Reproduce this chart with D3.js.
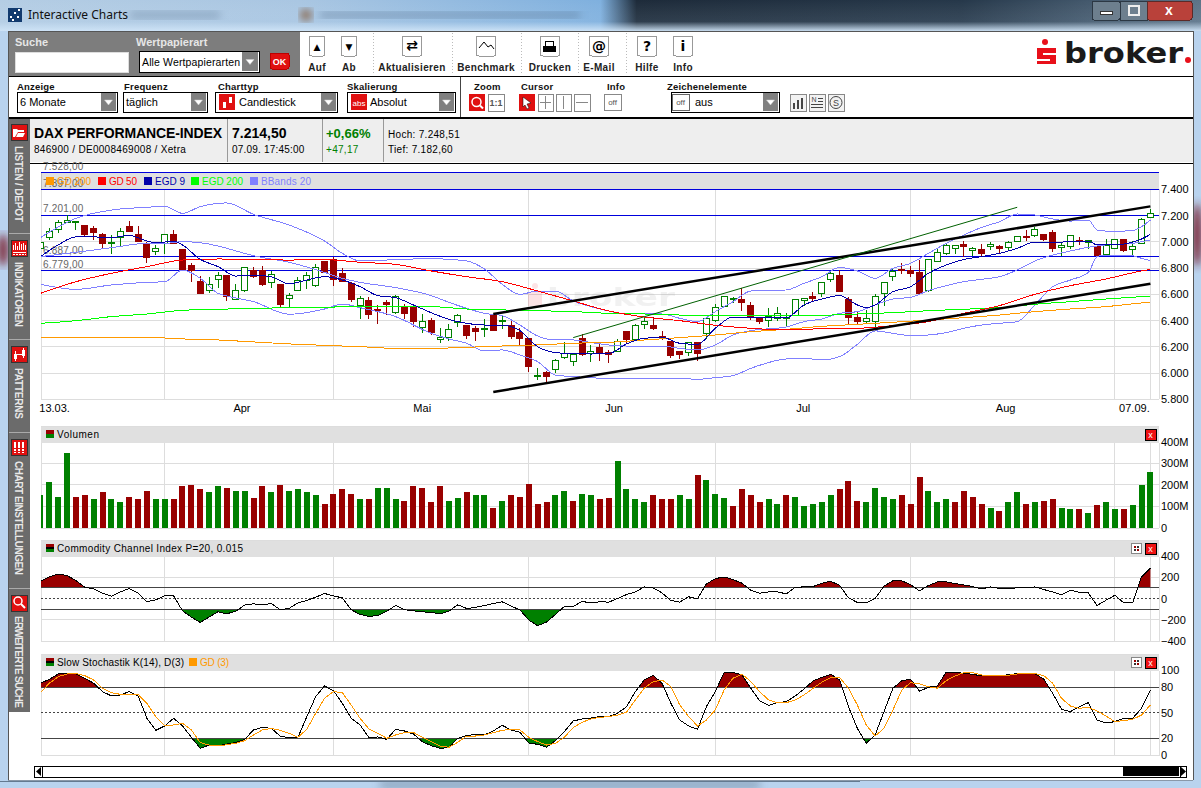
<!DOCTYPE html>
<html>
<head>
<meta charset="utf-8">
<title>Interactive Charts</title>
<script src="https://d3js.org/d3.v7.min.js"></script>
<style>
    html, body { margin: 0; padding: 0; background: #fff; overflow: hidden; }
    svg { display: block; font-family: "Liberation Sans", Arial, sans-serif; }
    .crisp { shape-rendering: crispEdges; }
</style>
</head>
<body>
<div id="chart"></div>
<script>
// candles, one per trading day from 13.03. to 07.09.
var opens = [6950,7034,7095,7148,7146,7125,7098,7057,6988,7031,
    7113,7057,6983,6925,6986,7057,6945,6823,6701,6628,
    6714,6740,6559,6628,6783,6783,6689,6671,6569,6630,
    6704,6668,6851,6866,6755,6686,6513,6554,6486,6534,
    6465,6503,6503,6346,6404,6257,6272,6387,6359,6343,
    6333,6435,6392,6366,6308,6267,5973,6008,6026,6115,
    6087,6260,6148,6191,6153,6166,6313,6252,6371,6366,
    6282,6239,6161,6158,6234,6303,6404,6508,6559,6564,
    6511,6417,6402,6417,6417,6442,6554,6585,6605,6709,
    6747,6564,6427,6392,6392,6607,6732,6788,6783,6765,
    6628,6851,6910,6948,6983,6932,6943,6963,6963,6960,
    7006,7044,7049,7052,7072,6958,6965,7009,6998,6968,
    6905,6950,7016,6940,6988,7186];
var highs = [7014,7103,7166,7204,7155,7125,7120,7070,7052,7103,
    7158,7120,7001,6976,7062,7090,6945,6836,6742,6729,
    6772,6740,6676,6805,6811,6816,6778,6671,6607,6734,
    6772,6828,6854,6887,6798,6691,6585,6580,6519,6557,
    6592,6524,6506,6447,6417,6343,6371,6450,6359,6361,
    6412,6442,6442,6397,6341,6267,6036,6016,6105,6234,
    6143,6295,6211,6219,6176,6262,6315,6371,6417,6430,
    6323,6239,6168,6232,6239,6417,6524,6585,6577,6646,
    6541,6422,6493,6501,6455,6564,6574,6620,6696,6767,
    6783,6577,6463,6480,6600,6691,6798,6836,6816,6861,
    6866,6950,6981,6976,7004,6960,6983,6996,6976,7004,
    7044,7090,7115,7059,7090,6996,7049,7037,7014,6968,
    7021,7016,7021,7006,7179,7250];
var lows = [6937,7014,7070,7141,7090,7039,7014,6945,6907,6968,
    7077,7001,6841,6899,6907,6983,6783,6691,6602,6607,
    6645,6552,6557,6620,6727,6666,6651,6493,6506,6628,
    6640,6653,6760,6666,6691,6544,6414,6414,6376,6442,
    6450,6412,6354,6303,6290,6231,6247,6354,6260,6244,
    6277,6321,6338,6262,6214,6011,5945,5930,5998,6105,
    6057,6133,6087,6095,6079,6163,6224,6249,6338,6328,
    6252,6112,6107,6133,6095,6260,6392,6506,6531,6475,
    6404,6374,6351,6399,6361,6440,6508,6539,6580,6696,
    6620,6376,6374,6376,6323,6513,6704,6755,6734,6602,
    6618,6849,6899,6905,6887,6889,6887,6937,6910,6930,
    6996,7006,7039,7009,6920,6892,6943,6976,6945,6887,
    6892,6945,6920,6889,6981,7182];
var closes = [6996,7077,7148,7166,7153,7052,7070,6986,6996,7077,
    7077,7001,6879,6950,7057,6986,6790,6783,6605,6676,
    6745,6582,6628,6805,6734,6671,6750,6521,6590,6704,
    6745,6803,6765,6714,6694,6557,6569,6445,6475,6521,
    6580,6453,6394,6389,6308,6272,6333,6440,6285,6315,
    6343,6323,6402,6282,6262,6049,5983,5973,6097,6148,
    6138,6138,6166,6150,6145,6237,6252,6366,6394,6343,
    6260,6130,6140,6232,6148,6414,6498,6585,6567,6534,
    6430,6392,6430,6453,6427,6562,6567,6567,6691,6760,
    6625,6422,6392,6412,6587,6691,6772,6778,6757,6605,
    6866,6920,6973,6973,6963,6950,6910,6983,6948,6998,
    7039,7031,7095,7014,6948,6973,7047,7004,7009,6892,
    6973,7016,6930,6968,7171,7215];

// volume in millions, and whether the bar is green (1) or red (0)
var volumes = [150,211,145,348,145,150,135,164,131,121,
    145,135,169,131,135,131,192,197,178,164,
    192,187,169,169,140,192,164,197,169,178,
    164,154,112,159,178,159,135,135,187,183,
    131,126,192,183,117,192,126,140,164,150,
    154,93,126,150,145,202,112,117,154,173,
    126,159,150,131,140,310,178,135,121,150,
    131,135,150,131,244,220,159,140,102,178,
    150,117,131,112,150,145,102,112,121,150,
    178,216,126,117,187,145,135,154,112,235,
    173,117,135,121,169,145,112,93,79,117,
    164,112,117,126,131,93,88,88,69,107,
    121,88,88,107,197,258];
var volumeUp = [1,1,1,1,0,0,1,0,1,1, 0,0,0,1,1,0,0,0,0,1,
    1,0,1,1,0,0,1,0,1,1, 1,1,0,0,0,0,1,0,1,1,
    1,0,0,0,0,0,1,1,0,1, 1,0,1,0,0,0,0,0,1,1,
    0,1,1,0,0,1,1,1,1,0, 0,0,1,1,0,1,1,1,0,0,
    0,0,1,1,0,1,1,1,1,1, 0,0,0,1,1,1,1,0,0,0,
    1,1,1,0,0,0,0,1,0,1, 1,0,1,0,0,1,1,0,1,0,
    1,1,0,1,1,1];

var cci = [162,203,231,216,169,106,91,50,22,62,
    94,53,-31,-12,25,25,-116,-175,-225,-175,
    -125,-144,-119,-62,-50,-59,-47,-106,-94,-41,
    -19,12,47,25,6,-106,-150,-169,-159,-119,
    -66,-106,-116,-125,-131,-144,-119,-59,-94,-84,
    -66,-47,-31,-72,-106,-203,-256,-222,-150,-75,
    -75,-28,-41,-31,-34,0,37,62,109,100,
    53,-19,-34,16,-3,137,187,203,178,144,
    78,50,62,62,44,106,109,112,144,162,
    125,6,-37,-41,0,116,166,166,131,72,
    122,156,156,141,128,112,91,109,94,94,
    100,100,109,84,62,34,78,59,53,-66,
    -16,31,-41,-41,203,288];

var stochK = [84.7,89.4,95.7,96.1,95.7,90.6,84.7,74.9,69.8,71,
    74.9,69.8,43.5,29.4,34.5,43.5,34.5,21.2,8.2,12.1,
    11,13.3,14.9,18.8,29.8,32.9,31.7,22.7,20.4,21.2,
    45.5,69,81.5,76,61.2,43.5,35.7,20.8,21.6,18.8,
    30.6,28.6,25.1,16.1,11.4,8.2,9,20,23.1,24.7,
    23.9,28.6,35.3,29.8,27,14.5,12.9,9.4,17.2,27.8,
    40.4,42.7,43.9,45.5,45.5,49.4,57.2,74.9,88.6,94.1,
    84.7,61.2,41.5,34.5,30.6,57.2,74.9,97.6,97.6,94.5,
    78.8,64.3,58.8,61.9,63.1,69.8,78,87.4,91.7,95.3,
    88.6,57.2,31.7,14.1,23.9,51.4,78.8,87.8,89.4,75.3,
    80,81.5,97.6,97.6,96.5,95.3,93.3,93.3,93.3,94.9,
    96.1,96.1,96.1,89.4,72.9,54.1,51.4,57.2,61.9,41.5,
    38,39.6,43.5,43.5,55.3,76.8];
var stochD = [73.7,84.7,92.5,95.7,96.1,93.7,88.6,78.8,73.7,71.7,
    71.7,71.7,61.2,45.5,34.5,35.7,37.6,29.8,14.9,12.1,
    11,12.5,14.1,17.2,23.9,29.8,31.7,29.4,25.9,21.2,
    30.6,49.4,67,74.9,73.7,59.2,43.5,31,25.9,20,
    23.9,26.6,27,21.2,16.1,11,9.4,15.3,22.7,22.7,
    23.9,26.6,29.4,30.6,29.8,21.2,16.1,12.1,14.1,21.2,
    32.5,38.8,42.7,44.7,45.5,47.4,50.6,65.1,78.8,86.6,
    88.6,80.8,59.2,45.5,34.5,41.5,53.3,76.8,90.6,95.7,
    86.6,74.9,65.1,61.9,61.9,65.1,71,78.8,85.9,91.4,
    91.7,78.8,59.2,35.7,22.7,31.7,53.3,76.8,85.5,83.9,
    80.8,78.8,87.8,93.3,97.2,97.2,94.5,93.7,93.3,94.1,
    95.7,96.1,96.1,93.7,84.7,67,58,55.3,56.4,52.1,
    46.3,39.6,40.8,42.3,47.4,59.2];

var egd9Days = [0,2,4,6,8,10,12,13,14,15,16,18,20,22,24,26,28,30,32,34,36,38,40,42,44,46,48,50,52,54,56,58,60,62,64,66,68,70,72,74,76,78,80,82,84,86,88,90,92,93,94,96,98,100,102,104,106,108,110,112,114,116,118,119,120,122,124,125];
var egd9 = [6887,6976,7037,7037,7032,7049,7006,6993,6998,7006,6976,6866,6811,6739,6745,6734,6679,6709,6734,6709,6658,6590,6574,6519,6460,6409,6379,6366,6366,6323,6201,6156,6148,6145,6148,6222,6265,6272,6227,6219,6341,6427,6427,6425,6422,6519,6564,6590,6519,6498,6519,6620,6658,6760,6823,6866,6887,6912,6950,6998,6996,7001,7006,6976,6976,6983,7021,7057];

var bandDays = [0,4,8,12,14,16,18,20,21,24,28,32,34,36,40,44,46,48,50,52,54,56,58,60,62,64,66,68,70,72,74,76,78,80,84,86,88,90,92,94,96,98,100,102,104,106,108,110,112,114,116,118,119,120,122,123,124,125];
var bandUpper = [7032,7179,7242,7263,7270,7217,7268,7293,7296,7209,7128,7006,6912,6854,6864,6872,6866,6854,6793,6676,6600,6625,6625,6549,6506,6473,6450,6450,6450,6417,6392,6468,6544,6625,6633,6684,6734,6805,6778,6722,6798,6836,6912,6988,7052,7110,7153,7212,7204,7174,7158,7166,7090,7082,7082,7085,7115,7166];
var bandMiddle = [6887,6920,6955,6988,6988,7001,6993,6968,6950,6894,6844,6767,6722,6691,6651,6590,6539,6493,6455,6437,6366,6282,6252,6252,6232,6214,6206,6206,6206,6188,6176,6214,6290,6323,6351,6392,6412,6455,6468,6519,6564,6577,6628,6666,6696,6714,6734,6785,6854,6899,6930,6958,6968,6976,6983,6988,7001,7014];
var bandLower = [6676,6638,6671,6691,6696,6785,6722,6607,6587,6544,6448,6488,6526,6498,6430,6303,6260,6227,6168,6176,6138,6087,5985,5973,5965,5957,5955,5960,5960,5960,5952,5965,5980,6036,6107,6112,6100,6125,6219,6321,6303,6285,6290,6308,6341,6366,6379,6392,6519,6658,6709,6767,6887,6899,6899,6894,6874,6856];

var avgDays = [0,4,8,12,16,20,24,28,32,36,40,44,48,52,56,60,64,68,72,76,80,84,88,92,96,100,104,108,112,116,120,124,125];
var gd50 = [6607,6696,6760,6811,6861,6869,6864,6861,6864,6844,6828,6778,6734,6696,6625,6549,6473,6427,6399,6364,6341,6328,6338,6341,6361,6392,6455,6514,6600,6666,6717,6778,6790];
var egd200 = [6379,6399,6430,6450,6478,6486,6493,6498,6501,6508,6508,6506,6488,6481,6475,6468,6455,6450,6442,6435,6440,6437,6440,6450,6460,6475,6486,6498,6524,6544,6564,6582,6587];
var gd200 = [6272,6272,6272,6272,6260,6252,6237,6222,6211,6201,6188,6188,6196,6206,6214,6227,6234,6252,6270,6290,6315,6333,6356,6371,6387,6404,6422,6442,6468,6488,6506,6534,6539];

// horizontal levels and trend lines the user drew
var levels = [7528,7397,7201,6887,6779];
var trendFrom = [51,51,60];
var trendTo = [125,125,110];
var trendStart = [6450,5856,6270];
var trendEnd = [7270,6681,7263];

var monthLines = [14,33,55,76,98,121,125];
var dateLabels = ["13.03.","Apr","Mai","Jun","Jul","Aug","07.09."];
var dateLabelDays = [1.6,22.7,43,64.6,85.9,108.7,123.2];

var priceTicks = [7400,7200,7000,6800,6600,6400,6200,6000,5800];
var volumeTicks = [400,300,200,100,0];
var cciTicks = [400,200,0,-200,-400];
var stochTicks = [100,80,50,20,0];

var de = d3.formatLocale({decimal: ",", thousands: ".", grouping: [3], currency: ["", ""]});
var fmtPrice = de.format(",.0f");
var fmtLevel = de.format(",.2f");

var width = 1201, height = 788;
var green = "#008000", darkRed = "#990000";
var plotLeft = 41, plotRight = 1159;

var svg = d3.select("#chart").append("svg").attr("width", width).attr("height", height);
var defs = svg.append("defs");

var x = d3.scaleLinear().domain([0, 125]).range([40.4, 1150.4]);
var yPrice = d3.scaleLinear().domain([5800, 7400]).range([399.3, 189.3]);
var yVolume = d3.scaleLinear().domain([0, 400]).range([527.5, 442]);
var yCci = d3.scaleLinear().domain([-400, 400]).range([641, 556]);
var yStoch = d3.scaleLinear().domain([0, 100]).range([755.3, 670.3]);

function rect(g, x0, y0, w, h, fill, stroke) {
    return g.append("rect").attr("class", "crisp").attr("x", x0).attr("y", y0)
        .attr("width", w).attr("height", h).attr("fill", fill)
        .attr("stroke", stroke || "none");
}
function label(g, x0, y0, txt, size, weight, fill, anchor) {
    return g.append("text").attr("x", x0).attr("y", y0).text(txt)
        .attr("font-size", size).attr("font-weight", weight || "normal")
        .attr("fill", fill || "#000").attr("text-anchor", anchor || "start");
}
function hline(g, x0, x1, y0, color, w) {
    return g.append("line").attr("class", "crisp").attr("x1", x0).attr("x2", x1)
        .attr("y1", y0).attr("y2", y0).attr("stroke", color).attr("stroke-width", w || 1);
}
function vline(g, x0, y0, y1, color, w) {
    return g.append("line").attr("class", "crisp").attr("x1", x0).attr("x2", x0)
        .attr("y1", y0).attr("y2", y1).attr("stroke", color).attr("stroke-width", w || 1);
}
function glyph(d, stroke, w, fill) {
    return svg.append("path").attr("d", d).attr("fill", fill || "none")
        .attr("stroke", stroke || "none").attr("stroke-width", w || 1);
}

// ---------- window frame ----------
var glass = defs.append("linearGradient").attr("id", "glass");
glass.append("stop").attr("offset", "0%").attr("stop-color", "#b4cde4");
glass.append("stop").attr("offset", "25%").attr("stop-color", "#a9c6e2");
glass.append("stop").attr("offset", "50%").attr("stop-color", "#7fb0de");
glass.append("stop").attr("offset", "53%").attr("stop-color", "#1d2b3a");
glass.append("stop").attr("offset", "80%").attr("stop-color", "#26384a");
glass.append("stop").attr("offset", "90%").attr("stop-color", "#41566a");
glass.append("stop").attr("offset", "100%").attr("stop-color", "#5d7488");
var sheen = defs.append("linearGradient").attr("id", "sheen").attr("x2", 0).attr("y2", 1);
sheen.append("stop").attr("offset", "0%").attr("stop-color", "#fff").attr("stop-opacity", 0);
sheen.append("stop").attr("offset", "70%").attr("stop-color", "#cfe4f7").attr("stop-opacity", 0.1);
sheen.append("stop").attr("offset", "100%").attr("stop-color", "#cfe4f7").attr("stop-opacity", 0.95);
defs.append("filter").attr("id", "blur").append("feGaussianBlur").attr("stdDeviation", 4);

rect(svg, 0, 0, width, height, "#b9d3ee");
rect(svg, 0, 0, width, 31, "url(#glass)");
rect(svg, 0, 0, width, 31, "url(#sheen)");
// things behind the glass
svg.append("ellipse").attr("cx", 306).attr("cy", 15).attr("rx", 6).attr("ry", 6).attr("fill", "#8a6a52").attr("filter", "url(#blur)");
svg.append("rect").attr("x", 320).attr("y", 12).attr("width", 260).attr("height", 6).attr("fill", "#55708c").attr("opacity", 0.5).attr("filter", "url(#blur)");
svg.append("rect").attr("x", 130).attr("y", 11).attr("width", 90).attr("height", 8).attr("fill", "#6f8aa6").attr("opacity", 0.5).attr("filter", "url(#blur)");
svg.append("ellipse").attr("cx", 1197).attr("cy", 235).attr("rx", 5).attr("ry", 32).attr("fill", "#7a2030").attr("filter", "url(#blur)");
svg.append("ellipse").attr("cx", 3).attr("cy", 250).attr("rx", 5).attr("ry", 16).attr("fill", "#7a2030").attr("filter", "url(#blur)");
svg.append("rect").attr("x", 380).attr("y", 782).attr("width", 380).attr("height", 5).attr("fill", "#5a6f86").attr("opacity", 0.7).attr("filter", "url(#blur)");
rect(svg, 0, 781, 860, 1, "#647a90");

// app icon and title
rect(svg, 8, 8, 14, 14, "#123a6e");
[[10, 16], [14, 12], [18, 9], [12, 19], [17, 16]].forEach(function(d) {
    rect(svg, d[0], d[1], 2, 2, "#fff");
});
label(svg, 28, 19, "Interactive Charts", 12, "normal", "#111").attr("font-family", "'Noto Sans', sans-serif");

// min / max / close
rect(svg, 1092, 1, 28, 19, "#6d7f8e", "#2c3844").attr("rx", 2);
rect(svg, 1120, 1, 27, 19, "#6d7f8e", "#2c3844");
rect(svg, 1147, 1, 45, 19, "#b9413a", "#5c2a28").attr("rx", 2);
rect(svg, 1100, 11, 12, 3, "#fff", "#333");
rect(svg, 1129, 6, 10, 9, "none", "#eee").attr("stroke-width", 2);
label(svg, 1169, 15, "x", 14, "bold", "#fff", "middle");

// client area
rect(svg, 8, 31, 1185, 749, "#fff");
vline(svg, 8, 31, 780, "#555");
vline(svg, 1193, 31, 780, "#555");
hline(svg, 8, 1193, 31, "#555");
rect(svg, 8, 780, 1185, 1, "#8a98a8");

// ---------- search box and toolbar ----------
rect(svg, 9, 32, 291, 44, "#7d7d7d");
label(svg, 15, 46, "Suche", 11, "bold", "#e6e6e6");
label(svg, 136, 46, "Wertpapierart", 11, "bold", "#e6e6e6");
rect(svg, 15, 52, 113, 20, "#fff", "#ddd");

function dropArrow(g, x0, y0, w, h) {
    rect(g, x0, y0, w, h, "#808080");
    var cx = x0 + w / 2, cy = y0 + h / 2;
    g.append("path").attr("d", "M" + (cx - 4) + "," + (cy - 2) + "h8l-4,5z")
        .attr("fill", "#fff").attr("stroke", "#ccc").attr("stroke-width", 0.5);
}
function selectBox(x0, w, txt, textX) {
    rect(svg, x0, 92, w, 20, "#fff", "#000").attr("stroke-width", 1);
    dropArrow(svg, x0 + w - 16, 93, 15, 18);
    label(svg, textX || x0 + 3, 106, txt, 11);
}
rect(svg, 139, 51, 120, 21, "#fff", "#000");
dropArrow(svg, 242, 52, 16, 19);
label(svg, 142, 66, "Alle Wertpapierarten", 10.5).attr("textLength", 98);
rect(svg, 270, 53, 19, 16, "#e01010", "#b00").attr("rx", 2);
label(svg, 279.5, 65, "OK", 9, "bold", "#fff", "middle");

var toolbarNames = ["Auf", "Ab", "Aktualisieren", "Benchmark", "Drucken", "E-Mail", "Hilfe", "Info"];
var toolbarCenters = [317, 349, 412, 486, 550, 599, 647, 683];
var toolbarGlyphs = ["\u25B2", "\u25BC", "\u21C4", "", "", "@", "?", "i"];
toolbarNames.forEach(function(name, i) {
    var cx = toolbarCenters[i], w = i < 2 ? 15 : 19;
    rect(svg, cx - w / 2, 36, w, 20, "#fff", "#999").attr("rx", 2);
    if (toolbarGlyphs[i] !== "") {
        label(svg, cx, i >= 5 ? 51 : 50, toolbarGlyphs[i], i >= 6 ? 14 : i < 2 ? 9 : 14, "bold", "#000", "middle").attr("font-family", "'DejaVu Sans', sans-serif");
    }
    label(svg, cx, 71, name, 10, "bold", "#222", "middle").attr("letter-spacing", 0.35);
});
glyph("M479,48l5,-6l4,5l3,-2l3,4", "#000", 1);
// printer
rect(svg, 545, 41, 8, 5, "#fff", "#000");
rect(svg, 543, 46, 13, 6, "#000");

[373, 452, 521, 578, 626].forEach(function(sx) {
    vline(svg, sx, 33, 75, "#bbb").attr("stroke-dasharray", "1,2");
});

// broker logo
svg.append("circle").attr("cx", 1045).attr("cy", 42).attr("r", 3).attr("fill", "#e8101a");
rect(svg, 1037, 48, 19, 5, "#e8101a");
rect(svg, 1037, 53, 6, 3, "#e8101a");
rect(svg, 1037, 55, 19, 4, "#e8101a");
rect(svg, 1050, 59, 6, 2, "#e8101a");
rect(svg, 1037, 61, 19, 3, "#e8101a");
label(svg, 1064, 63, "broker", 29, "bold", "#1a1a1a").attr("font-family", "'DejaVu Sans', sans-serif")
    .attr("textLength", 119).attr("lengthAdjust", "spacingAndGlyphs");
svg.append("circle").attr("cx", 1188).attr("cy", 60).attr("r", 3).attr("fill", "#e8101a");

hline(svg, 9, 1193, 76, "#000");
hline(svg, 9, 1193, 118, "#000", 2);
vline(svg, 460, 77, 117, "#444");

// ---------- second toolbar row ----------
var rowLabels = ["Anzeige", "Frequenz", "Charttyp", "Skalierung", "Zoom", "Cursor", "Info", "Zeichenelemente"];
var rowLabelX = [17, 124, 218, 347, 474, 521, 607, 667];
rowLabels.forEach(function(t, i) {
    label(svg, rowLabelX[i], 90, t, 9.5, "bold", "#111").attr("letter-spacing", 0.2);
});
selectBox(17, 100, "6 Monate");
selectBox(123, 84, "täglich");
selectBox(215, 122, "Candlestick", 239);
selectBox(347, 108, "Absolut", 370);
selectBox(671, 108, "aus", 695);
rect(svg, 219, 94, 16, 16, "#e01010");
rect(svg, 223, 102, 3, 6, "#fff");
rect(svg, 229, 97, 3, 6, "#fff");
rect(svg, 351, 94, 16, 16, "#e01010");
label(svg, 359, 106, "abs", 8, "normal", "#fff", "middle");
rect(svg, 672, 94, 17, 16, "#fff", "#666");
label(svg, 680.5, 105, "off", 8, "normal", "#555", "middle");

rect(svg, 469, 94, 16, 17, "#e01010");
svg.append("circle").attr("cx", 476.5).attr("cy", 102).attr("r", 4.5).attr("fill", "none").attr("stroke", "#fff").attr("stroke-width", 1.5);
glyph("M480,105.5l3,3", "#fff", 2);
rect(svg, 488, 94, 16, 17, "#fff", "#888");
label(svg, 496, 106, "1:1", 9, "bold", "#555", "middle");
rect(svg, 519, 94, 16, 17, "#e01010");
glyph("M523,97l8,6l-4,1l2,4l-2,1l-2,-4l-2,2z", "#000", 0.5, "#fff");
rect(svg, 538, 94, 15, 17, "#fff", "#888");
hline(svg, 540, 551, 102, "#888");
vline(svg, 545, 96, 109, "#888");
rect(svg, 556, 94, 15, 17, "#fff", "#888");
vline(svg, 563, 96, 109, "#888");
rect(svg, 574, 94, 16, 17, "#fff", "#888");
hline(svg, 576, 588, 102, "#888");
rect(svg, 604, 94, 17, 16, "#fff", "#888");
label(svg, 612.5, 105, "off", 8, "normal", "#555", "middle");
rect(svg, 790, 94, 16, 17, "#f2f2f2", "#888");
rect(svg, 793, 103, 2, 6, "#444");
rect(svg, 797, 100, 2, 9, "#444");
rect(svg, 801, 98, 2, 11, "#444");
rect(svg, 809, 94, 16, 17, "#f2f2f2", "#888");
label(svg, 814, 102, "N", 7, "normal", "#444", "middle");
hline(svg, 818, 823, 98, "#444");
hline(svg, 818, 823, 101, "#444");
hline(svg, 811, 823, 104, "#444");
hline(svg, 811, 823, 107, "#444");
rect(svg, 828, 94, 16, 17, "#f2f2f2", "#888");
svg.append("circle").attr("cx", 836).attr("cy", 102.5).attr("r", 6).attr("fill", "none").attr("stroke", "#444");
label(svg, 836, 106, "S", 9, "normal", "#444", "middle");

// ---------- instrument info ----------
rect(svg, 30, 119, 1163, 43, "#eeeeee");
hline(svg, 30, 1193, 163, "#000", 1);
[227, 322, 383].forEach(function(sx) { vline(svg, sx, 119, 162, "#999"); });
label(svg, 34, 138, "DAX PERFORMANCE-INDEX", 14, "bold").attr("textLength", 188);
label(svg, 34, 153, "846900 / DE0008469008 / Xetra", 10).attr("letter-spacing", 0.3);
label(svg, 232, 138, "7.214,50", 14, "bold");
label(svg, 232, 153, "07.09. 17:45:00", 10).attr("letter-spacing", 0.2);
label(svg, 326, 138, "+0,66%", 13, "bold", green);
label(svg, 326, 153, "+47,17", 10, "normal", green).attr("letter-spacing", 0.3);
label(svg, 388, 138, "Hoch: 7.248,51", 10).attr("letter-spacing", 0.3);
label(svg, 388, 153, "Tief: 7.182,60", 10).attr("letter-spacing", 0.3);

// ---------- left side bar ----------
rect(svg, 9, 119, 21, 593, "#6b6b6b");
var sideNames = ["LISTEN / DEPOT", "INDIKATOREN", "PATTERNS", "CHART EINSTELLUNGEN", "ERWEITERTE SUCHE"];
var sideIcon = [124, 240, 346, 439, 595];
var sideStart = [146, 262, 368, 461, 616];
var sideLen = [76, 65, 51, 114, 92];
sideNames.forEach(function(t, i) {
    rect(svg, 11, sideIcon[i], 16, 16, "#e01010", "#333");
    label(svg, 0, 0, t, 10, "bold", "#e8e8e8")
        .attr("transform", "translate(15," + sideStart[i] + ") rotate(90)")
        .attr("textLength", sideLen[i]);
    if (i > 0) hline(svg, 9, 30, sideIcon[i] - 7, "#aaa");
});
// side bar icons
glyph("M13,129h4l1,1h6v2h-6l-3,5h-2z M16,137l2,-4h7l-2,4z", "none", 1, "#fff");
[245, 243, 246, 242, 244, 243, 245].forEach(function(t, i) {
    rect(svg, 13 + i * 2, t, 1, 250 - t, "#fff");
});
hline(svg, 13, 26, 252, "#fff");
hline(svg, 13, 26, 254, "#fff").attr("stroke-dasharray", "2,1");
rect(svg, 14, 354, 3, 5, "#fff");
rect(svg, 22, 350, 3, 6, "#fff");
vline(svg, 15, 351, 361, "#fff");
vline(svg, 23, 348, 358, "#fff");
hline(svg, 17, 22, 354, "#fff");
[14, 18, 22].forEach(function(cx) {
    rect(svg, cx, 442, 2, 6, "#fff");
    rect(svg, cx, 449, 2, 2, "#fff");
    rect(svg, cx, 452, 2, 1, "#fff");
});
svg.append("circle").attr("cx", 18).attr("cy", 601).attr("r", 4).attr("fill", "none").attr("stroke", "#fff").attr("stroke-width", 1.5);
glyph("M21,604l4,4", "#fff", 2);

// ---------- main price panel ----------
var clip = defs.append("clipPath").attr("id", "plotClip");
clip.append("rect").attr("x", plotLeft).attr("y", 172).attr("width", plotRight - plotLeft).attr("height", 600);

rect(svg, plotLeft, 173, plotRight - plotLeft, 16, "#e0e0e0");

function drawGrid(yScale, ticks, top, bottom) {
    var g = svg.append("g").attr("class", "crisp");
    g.selectAll("line.h").data(ticks).enter().append("line")
        .attr("x1", plotLeft).attr("x2", plotRight)
        .attr("y1", function(d) { return yScale(d); })
        .attr("y2", function(d) { return yScale(d); })
        .attr("stroke", "#dddddd");
    g.selectAll("line.v").data(monthLines).enter().append("line")
        .attr("x1", function(d) { return x(d); })
        .attr("x2", function(d) { return x(d); })
        .attr("y1", top).attr("y2", bottom)
        .attr("stroke", "#dddddd");
    vline(g, plotLeft, top, bottom, "#dddddd");
    vline(g, plotRight, top, bottom, "#dddddd");
    hline(g, plotLeft, plotRight, bottom, "#dddddd");
}
drawGrid(yPrice, priceTicks.slice(1, 8), 189, 399);
vline(svg, plotLeft, 172, 189, "#bbb");

function rightAxis(yScale, ticks, fmt) {
    var g = svg.append("g").attr("transform", "translate(1157,0)")
        .call(d3.axisRight(yScale).tickValues(ticks).tickSize(0).tickPadding(4).tickFormat(fmt));
    g.select(".domain").remove();
    g.selectAll("text").attr("font-size", 11).attr("font-family", "'Liberation Sans', Arial, sans-serif").attr("fill", "#000");
}
rightAxis(yPrice, priceTicks, fmtPrice);

// faint logo behind the candles
var mark = svg.append("g").attr("opacity", 0.11);
rect(mark, 528, 292, 14, 14, "#e8101a");
mark.append("circle").attr("cx", 535).attr("cy", 286).attr("r", 3).attr("fill", "#e8101a");
label(mark, 547, 306, "broker", 24, "bold", "#888").attr("font-family", "'DejaVu Sans', sans-serif")
    .attr("textLength", 128).attr("lengthAdjust", "spacingAndGlyphs");

var plot = svg.append("g").attr("clip-path", "url(#plotClip)");

var days = d3.range(opens.length);
plot.selectAll("line.wick").data(days).enter().append("line")
    .attr("class", "crisp wick")
    .attr("x1", function(i) { return x(i); })
    .attr("x2", function(i) { return x(i); })
    .attr("y1", function(i) { return yPrice(highs[i]); })
    .attr("y2", function(i) { return yPrice(lows[i]); })
    .attr("stroke", function(i) { return closes[i] >= opens[i] ? green : darkRed; });
plot.selectAll("rect.body").data(days).enter().append("rect")
    .attr("class", "crisp body")
    .attr("x", function(i) { return x(i) - 3; })
    .attr("width", 6)
    .attr("y", function(i) { return yPrice(Math.max(opens[i], closes[i])); })
    .attr("height", function(i) { return Math.max(1, Math.abs(yPrice(opens[i]) - yPrice(closes[i]))); })
    .attr("fill", function(i) { return closes[i] >= opens[i] ? "#fff" : darkRed; })
    .attr("stroke", function(i) { return closes[i] >= opens[i] ? green : darkRed; });

function overlay(dayList, values, color, w) {
    var line = d3.line()
        .x(function(d) { return x(d); })
        .y(function(d, i) { return yPrice(values[i]); })
        .curve(d3.curveMonotoneX);
    plot.append("path").attr("d", line(dayList)).attr("fill", "none")
        .attr("stroke", color).attr("stroke-width", w || 1).attr("class", "crisp");
}
overlay(bandDays, bandUpper, "#8080ff");
overlay(bandDays, bandMiddle, "#8080ff");
overlay(bandDays, bandLower, "#8080ff");
overlay(avgDays, gd200, "#ff9900");
overlay(avgDays, egd200, "#00ff00");
overlay(avgDays, gd50, "#ff0000");
overlay(egd9Days, egd9, "#0000aa");

// level lines with their price at the left
levels.forEach(function(v) {
    hline(svg, plotLeft, plotRight, yPrice(v), "#0000dd");
    label(svg, 43, yPrice(v) - 3, fmtLevel(v), 10, "normal", "#666").attr("letter-spacing", 0.2);
});

// trend lines
trendFrom.forEach(function(d, i) {
    plot.append("line")
        .attr("x1", x(d)).attr("x2", x(trendTo[i]))
        .attr("y1", yPrice(trendStart[i])).attr("y2", yPrice(trendEnd[i]))
        .attr("stroke", i === 2 ? "#006000" : "#000")
        .attr("stroke-width", i === 2 ? 1 : 2.5);
});

dateLabels.forEach(function(t, i) {
    label(svg, x(dateLabelDays[i]), 412, t, 11, "normal", "#000", "middle");
});

// legend above the price panel
var legendNames = ["GD 200", "GD 50", "EGD 9", "EGD 200", "BBands 20"];
var legendColors = ["#ff9900", "#ff0000", "#0000aa", "#00ff00", "#8080ff"];
var legendSquare = [46, 98, 144, 191, 250];
var legendLen = [34, 28, 30, 41, 50];
legendNames.forEach(function(t, i) {
    rect(svg, legendSquare[i], 177, 8, 8, legendColors[i]);
    label(svg, legendSquare[i] + 11, 185, t, 10, "normal", legendColors[i]).attr("textLength", legendLen[i]);
});

// ---------- helpers for the lower panels ----------
function panelHeader(top, title, titleLen, extraButton) {
    rect(svg, plotLeft, top, plotRight - plotLeft, 16, "#e0e0e0");
    hline(svg, plotLeft, plotRight, top - 1, "#dddddd");
    label(svg, 57, top + 11, title, 10, "normal", "#000").attr("textLength", titleLen);
    rect(svg, 1145, top + 2, 11, 11, "#ee1111", "#000");
    label(svg, 1150.5, top + 11, "x", 9, "normal", "#fff", "middle");
    if (extraButton) {
        rect(svg, 1131, top + 2, 10, 10, "#fff", "#888");
        rect(svg, 1134, top + 5, 2, 2, "#900");
        rect(svg, 1137, top + 5, 2, 2, "#333");
        rect(svg, 1134, top + 8, 2, 2, "#333");
        rect(svg, 1137, top + 8, 2, 2, "#900");
    }
}
function headerIcon(top, colors) {
    var h = 8 / colors.length;
    colors.forEach(function(c, i) {
        rect(svg, 46, top + 3 + i * h, 8, h, c);
    });
}
function clipAbove(id, yLimit) {
    var c = defs.append("clipPath").attr("id", id);
    c.append("rect").attr("x", plotLeft).attr("y", yLimit - 200).attr("width", plotRight - plotLeft).attr("height", 200);
}
function clipBelow(id, yLimit) {
    var c = defs.append("clipPath").attr("id", id);
    c.append("rect").attr("x", plotLeft).attr("y", yLimit).attr("width", plotRight - plotLeft).attr("height", 200);
}
function oscillator(values, yScale, hi, lo, prefix) {
    var areaHi = d3.area().x(function(d, i) { return x(i); }).y0(yScale(hi)).y1(function(d) { return yScale(d); });
    var areaLo = d3.area().x(function(d, i) { return x(i); }).y0(yScale(lo)).y1(function(d) { return yScale(d); });
    clipAbove(prefix + "Hi", yScale(hi));
    clipBelow(prefix + "Lo", yScale(lo));
    svg.append("path").attr("d", areaHi(values)).attr("fill", darkRed).attr("clip-path", "url(#" + prefix + "Hi)");
    svg.append("path").attr("d", areaLo(values)).attr("fill", green).attr("clip-path", "url(#" + prefix + "Lo)");
}
function plainLine(values, yScale, color) {
    var line = d3.line().x(function(d, i) { return x(i); }).y(function(d) { return yScale(d); });
    plot.append("path").attr("d", line(values)).attr("fill", "none")
        .attr("stroke", color).attr("class", "crisp");
}

// ---------- volume ----------
panelHeader(427, "Volumen", 42, false);
headerIcon(427, [darkRed, green]);
drawGrid(yVolume, volumeTicks.slice(1, 4), 443, 528);
rightAxis(yVolume, volumeTicks, function(d) { return d === 0 ? "0" : d + "M"; });
plot.selectAll("rect.vol").data(volumes).enter().append("rect")
    .attr("class", "crisp vol")
    .attr("x", function(d, i) { return x(i) - 3; })
    .attr("width", 6)
    .attr("y", function(d) { return yVolume(d); })
    .attr("height", function(d) { return yVolume(0) - yVolume(d); })
    .attr("fill", function(d, i) { return volumeUp[i] ? green : darkRed; });

// ---------- commodity channel index ----------
panelHeader(541, "Commodity Channel Index P=20, 0.015", 186, true);
headerIcon(541, [darkRed, "#000", green]);
drawGrid(yCci, [200, -200], 557, 641.5);
rightAxis(yCci, cciTicks, d3.format("d"));
oscillator(cci, yCci, 100, -100, "cci");
hline(svg, plotLeft, plotRight, yCci(100), "#444");
hline(svg, plotLeft, plotRight, yCci(-100), "#444");
hline(svg, plotLeft, plotRight, yCci(0), "#444").attr("stroke-dasharray", "2,2");
plainLine(cci, yCci, "#000");

// ---------- slow stochastic ----------
panelHeader(655, "Slow Stochastik K(14), D(3)", 127, true);
headerIcon(655, [darkRed, "#000", green]);
rect(svg, 189, 658, 8, 8, "#ff9900");
label(svg, 200, 666, "GD (3)", 10, "normal", "#ff9900").attr("textLength", 29);
drawGrid(yStoch, [], 671, 755.5);
rightAxis(yStoch, stochTicks, d3.format("d"));
oscillator(stochK, yStoch, 80, 20, "sto");
hline(svg, plotLeft, plotRight, yStoch(80), "#444");
hline(svg, plotLeft, plotRight, yStoch(20), "#444");
hline(svg, plotLeft, plotRight, yStoch(50), "#444").attr("stroke-dasharray", "2,2");
plainLine(stochK, yStoch, "#000");
plainLine(stochD, yStoch, "#ff9900");
// keep the line group above the fills and level lines
plot.raise();

// ---------- scroll bar ----------
rect(svg, 34, 766, 1152, 11, "#fff", "#000");
svg.append("path").attr("d", "M41,767v9l-5,-4.5z").attr("fill", "#000");
vline(svg, 42, 766, 777, "#000");
rect(svg, 1123, 767, 56, 9, "#000");
vline(svg, 1180, 766, 777, "#000");
svg.append("path").attr("d", "M1181,767v9l5,-4.5z").attr("fill", "#000");
</script>
</body>
</html>
